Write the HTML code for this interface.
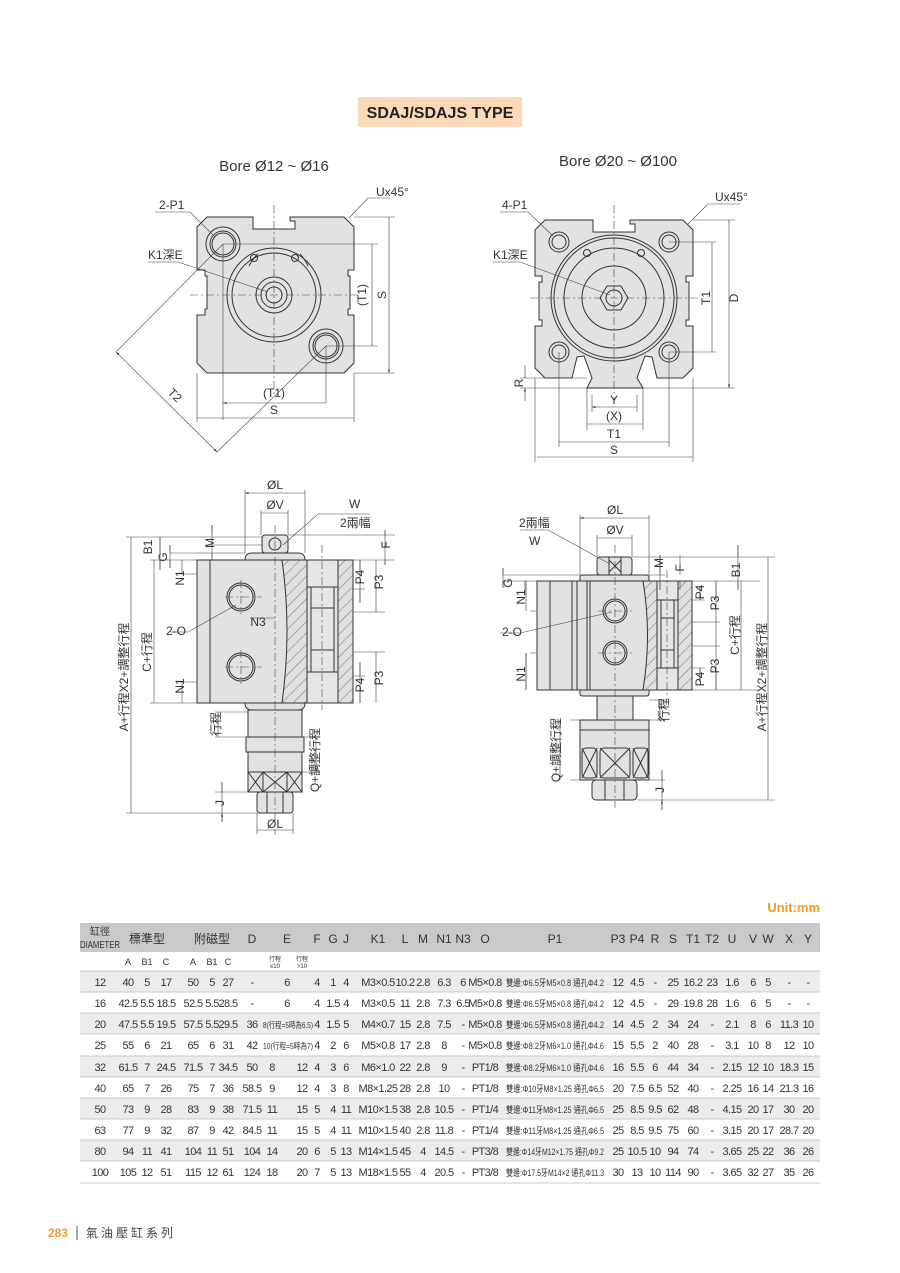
<!DOCTYPE html>
<html><head><meta charset="utf-8"><style>
html,body{margin:0;padding:0;background:#fff;}
svg{display:block;font-family:"Liberation Sans","Noto Sans CJK TC",sans-serif;}
</style></head><body>
<svg width="900" height="1273" viewBox="0 0 900 1273" xmlns="http://www.w3.org/2000/svg">
<defs>
<pattern id="h" width="8" height="8" patternUnits="userSpaceOnUse" patternTransform="rotate(45)">
<rect width="8" height="8" fill="#e0e0e0"/><line x1="0" y1="0" x2="0" y2="8" stroke="#555" stroke-width="0.8"/></pattern>
<marker id="a" viewBox="0 0 10 10" refX="10" refY="5" markerWidth="6" markerHeight="6" orient="auto-start-reverse"><path d="M0,2 L10,5 L0,8z" fill="#333"/></marker>
</defs>
<rect x="358" y="97" width="164" height="30" fill="#fbd9b8"/>
<text x="440" y="118" font-size="16" font-weight="bold" text-anchor="middle" fill="#222">SDAJ/SDAJS TYPE</text>

<g font-size="15" fill="#333" text-anchor="middle">
<text x="274" y="171">Bore Ø12 ~ Ø16</text>
<text x="618" y="166">Bore Ø20 ~ Ø100</text>
</g>

<!-- TOP LEFT -->
<g stroke="#333" stroke-width="1" fill="none">
<path d="M207,217 L253,217 L253,229 L295,229 L295,221 L290,221 L290,217 L344,217 L354,227 L354,270 L348,270 L348,276 L350,276 L350,309 L348,309 L348,315 L354,315 L354,363 L344,373 L207,373 L197,363 L197,315 L205,315 L205,309 L207,309 L207,276 L205,276 L205,270 L197,270 L197,227 Z" fill="#e2e2e2"/>
<circle cx="274" cy="295" r="47"/><circle cx="274" cy="295" r="42"/>
<circle cx="274" cy="295" r="18"/><circle cx="274" cy="295" r="13"/><circle cx="274" cy="295" r="8"/>
<circle cx="223" cy="244" r="17"/><circle cx="223" cy="244" r="13"/><circle cx="223" cy="244" r="11"/>
<circle cx="326" cy="346" r="17"/><circle cx="326" cy="346" r="13"/><circle cx="326" cy="346" r="11"/>
<circle cx="254" cy="258" r="3.5"/><circle cx="295" cy="258" r="3.5"/>
<path d="M249,266 A40,40 0 0 1 258,254 M300,254 A40,40 0 0 1 308,266"/>
</g>
<g stroke="#444" stroke-width="0.6" fill="none">
<path d="M274,205 V395 M190,295 H358" stroke-dasharray="8,3,2,3"/>
<path d="M223,244 V420 M326,346 V403 M197,373 V422 M354,373 V422 M354,217 H395 M354,373 H395 M223,244 H378 M326,346 H378"/>
<path d="M223,403 H326 M197,418 H354 M372,244 V346 M389,217 V373" marker-start="url(#a)" marker-end="url(#a)"/>
<path d="M116,352 L217,452" marker-start="url(#a)" marker-end="url(#a)"/>
<path d="M116,352 L223,244 M217,452 L326,346"/>
<path d="M155,212 H190 L215,237 M148,262 H178 L268,292 M349,218 L368,198 H390"/>
</g>
<g font-size="12" fill="#333">
<text x="159" y="209">2-P1</text><text x="148" y="259">K1深E</text><text x="376" y="196">Ux45°</text>
<text x="274" y="397" text-anchor="middle">(T1)</text><text x="274" y="414" text-anchor="middle">S</text>
<text transform="translate(366,295) rotate(-90)" text-anchor="middle">(T1)</text>
<text transform="translate(386,295) rotate(-90)" text-anchor="middle">S</text>
<text transform="translate(172,398) rotate(45)" text-anchor="middle">T2</text>
</g>

<!-- TOP RIGHT -->
<g stroke="#333" stroke-width="1" fill="none">
<path d="M545,220 L593,220 L593,232 L635,232 L635,224 L630,224 L630,220 L683,220 L693,230 L693,276 L686,276 L686,282 L689,282 L689,320 L686,320 L686,326 L693,326 L693,368 L683,378 L657,378 L652,357 L645,356 L637,378 L643,388 L587,388 L592,378 L584,356 L577,357 L572,378 L545,378 L535,368 L535,326 L542,326 L542,320 L539,320 L539,282 L542,282 L542,276 L535,276 L535,230 Z" fill="#e2e2e2"/>
<circle cx="614" cy="298" r="63"/><circle cx="614" cy="298" r="60"/><circle cx="614" cy="298" r="50"/>
<circle cx="614" cy="298" r="32"/>
<polygon points="600,298 607,286 621,286 628,298 621,310 607,310"/><circle cx="614" cy="298" r="8"/>
<circle cx="559" cy="242" r="10"/><circle cx="559" cy="242" r="7"/>
<circle cx="669" cy="242" r="10"/><circle cx="669" cy="242" r="7"/>
<circle cx="559" cy="352" r="10"/><circle cx="559" cy="352" r="7"/>
<circle cx="669" cy="352" r="10"/><circle cx="669" cy="352" r="7"/>
<circle cx="587" cy="253" r="3.5"/><circle cx="641" cy="253" r="3.5"/>
</g>
<g stroke="#444" stroke-width="0.6" fill="none">
<path d="M614,205 V400 M530,298 H700" stroke-dasharray="8,3,2,3"/>
<path d="M559,352 V447 M669,352 V447 M535,378 V462 M693,378 V462 M587,388 V430 M643,388 V430 M592,395 V412 M637,395 V412 M693,220 H735 M643,388 H735 M669,242 H716 M669,352 H716 M520,378 H587 M520,388 H587"/>
<path d="M592,407 H637 M587,424 H643 M559,442 H669 M537,457 H693 M712,242 V352 M729,220 V388" marker-start="url(#a)" marker-end="url(#a)"/>
<path d="M525,365 V378 M525,401 V388" marker-end="url(#a)"/>
<path d="M500,212 H528 L553,236 M493,262 H520 L610,295 M688,224 L708,204 H740"/>
</g>
<g font-size="12" fill="#333">
<text x="502" y="209">4-P1</text><text x="493" y="259">K1深E</text><text x="715" y="201">Ux45°</text>
<text x="614" y="404" text-anchor="middle">Y</text><text x="614" y="420" text-anchor="middle">(X)</text>
<text x="614" y="438" text-anchor="middle">T1</text><text x="614" y="454" text-anchor="middle">S</text>
<text transform="translate(710,298) rotate(-90)" text-anchor="middle">T1</text>
<text transform="translate(738,298) rotate(-90)" text-anchor="middle">D</text>
<text transform="translate(523,383) rotate(-90)" text-anchor="middle">R</text>
</g>

<!-- BOTTOM LEFT -->
<g stroke="#333" stroke-width="1">
<rect x="197" y="560" width="156" height="143" fill="#e2e2e2"/>
<path d="M282,560 Q292,630 282,703 L307,703 L307,560 Z M338,560 H353 V703 H338 Z" fill="url(#h)"/>
<path d="M307,560 H338 V587 H334 V608 H334 V650 V672 H338 V703 H307 V672 H311 V650 V608 H311 V587 H307 Z" fill="#e6e6e6"/>
<path d="M311,587 H334 M311,608 H334 M311,650 H334 M311,672 H334" fill="none"/>
<line x1="210" y1="560" x2="210" y2="703"/>
<path d="M245,560 Q245,553 252,553 H298 Q305,553 305,560 Z" fill="#e2e2e2"/>
<path d="M245,703 Q245,710 252,710 H298 Q305,710 305,703 Z" fill="#e2e2e2"/>
<rect x="262" y="535" width="26" height="18" rx="3" fill="#e2e2e2"/>
<circle cx="275" cy="544" r="6" fill="none"/>
<rect x="248" y="710" width="54" height="27" fill="#e2e2e2"/>
<rect x="246" y="737" width="58" height="15" fill="#e2e2e2"/>
<rect x="248" y="752" width="54" height="20" fill="#e2e2e2"/>
<rect x="248" y="772" width="15" height="20" fill="#e2e2e2"/><rect x="263" y="772" width="24" height="20" fill="#e2e2e2"/><rect x="287" y="772" width="15" height="20" fill="#e2e2e2"/>
<path d="M248,772 L263,792 M263,772 L248,792 M263,772 L287,792 M287,772 L263,792 M287,772 L302,792 M302,772 L287,792" fill="none"/>
<rect x="257" y="792" width="36" height="21" rx="3" fill="#e2e2e2"/>
<path d="M267,792 V813 M283,792 V813" fill="none"/>
<circle cx="241" cy="597" r="14" fill="#e2e2e2"/><circle cx="241" cy="597" r="12" fill="none"/>
<circle cx="241" cy="667" r="14" fill="#e2e2e2"/><circle cx="241" cy="667" r="12" fill="none"/>
</g>
<g stroke="#444" stroke-width="0.6" fill="none">
<path d="M275,525 V835 M225,597 H262 M225,667 H262 M241,580 V614 M241,650 V684 M322,545 V710" stroke-dasharray="8,3,2,3"/>
<path d="M245,490 V553 M305,490 V553 M261,510 V535 M288,510 V535 M257,813 V834 M293,813 V834 M126,537 H262 M126,813 H257 M150,560 H197 M150,703 H197 M170,553 H245 M175,560 H197 M178,574 H197 M178,682 H197 M288,535 H395 M353,560 H395 M205,545 H262 M353,589 H365 M353,612 H385 M353,652 H385 M353,676 H365 M215,712 H248 M215,737 H246 M300,737 H320 M300,772 H320 M215,792 H257"/>
<path d="M245,493 H305 M261,513 H288 M257,830 H293 M131,537 V813 M154,560 V703 M250,618 H275 M376,560 V612 M376,652 V703 M218,712 V737 M316,737 V772" marker-start="url(#a)" marker-end="url(#a)"/>
<path d="M160,537 V553 M160,570 V560 M170,553 V545 M170,568 V560 M182,574 V560 M182,682 V703 M360,574 V560 M360,589 V603 M360,703 V689 M360,676 V662 M212,525 V535 M212,560 V553 M385,530 V535 M385,565 V560 M222,782 V792 M222,822 V813" marker-end="url(#a)"/>
<path d="M160,537 V570 M170,545 V568 M360,560 V603 M360,662 V703 M212,525 V560 M385,530 V565 M222,782 V822"/>
<path d="M170,632 H188 L236,605 M283,545 L318,514 H370"/>
</g>
<g font-size="12" fill="#333">
<text x="275" y="489" text-anchor="middle">ØL</text><text x="275" y="509" text-anchor="middle">ØV</text>
<text x="275" y="828" text-anchor="middle">ØL</text>
<text x="349" y="508">W</text><text x="340" y="527">2兩幅</text>
<text x="258" y="626" text-anchor="middle">N3</text><text x="166" y="635">2-O</text>
<text transform="translate(152,547) rotate(-90)" text-anchor="middle">B1</text>
<text transform="translate(167,557) rotate(-90)" text-anchor="middle">G</text>
<text transform="translate(184,578) rotate(-90)" text-anchor="middle">N1</text>
<text transform="translate(184,686) rotate(-90)" text-anchor="middle">N1</text>
<text transform="translate(151,652) rotate(-90)" text-anchor="middle">C+行程</text>
<text transform="translate(128,677) rotate(-90)" text-anchor="middle">A+行程X2+調整行程</text>
<text transform="translate(214,543) rotate(-90)" text-anchor="middle">M</text>
<text transform="translate(390,545) rotate(-90)" text-anchor="middle">F</text>
<text transform="translate(364,577) rotate(-90)" text-anchor="middle">P4</text>
<text transform="translate(383,582) rotate(-90)" text-anchor="middle">P3</text>
<text transform="translate(364,685) rotate(-90)" text-anchor="middle">P4</text>
<text transform="translate(383,678) rotate(-90)" text-anchor="middle">P3</text>
<text transform="translate(220,724) rotate(-90)" text-anchor="middle">行程</text>
<text transform="translate(319,760) rotate(-90)" text-anchor="middle">Q+調整行程</text>
<text transform="translate(224,803) rotate(-90)" text-anchor="middle">J</text>
</g>

<!-- BOTTOM RIGHT -->
<g stroke="#333" stroke-width="1">
<rect x="537" y="581" width="155" height="109" fill="#e2e2e2"/>
<path d="M643,581 Q652,635 643,690 L657,690 L657,581 Z M678,581 H692 V690 H678 Z" fill="url(#h)"/>
<path d="M657,581 H678 V600 H674 V618 V650 V668 H678 V690 H657 V668 H661 V650 V618 V600 H657 Z" fill="#e6e6e6"/>
<path d="M661,600 H674 M661,618 H674 M661,650 H674 M661,668 H674" fill="none"/>
<path d="M550,581 V690 M572,581 V690 M577,581 V690 M587,581 V690 M590,581 V690" fill="none"/>
<path d="M580,581 V577 Q580,575 583,575 H646 Q649,575 649,577 V581 Z" fill="#e2e2e2"/>
<path d="M580,690 V694 Q580,696 583,696 H646 Q649,696 649,694 V690 Z" fill="#e2e2e2"/>
<rect x="597" y="557" width="35" height="18" rx="3" fill="#e2e2e2"/>
<path d="M609,557 V575 M621,557 V575 M609,560 L621,572 M621,560 L609,572" fill="none"/>
<rect x="597" y="696" width="36" height="24" fill="#e2e2e2"/>
<rect x="580" y="720" width="69" height="60" fill="#e2e2e2"/>
<path d="M580,730 H649" fill="none"/>
<rect x="582" y="748" width="15" height="30" rx="4" fill="none"/><rect x="600" y="748" width="30" height="30" rx="4" fill="none"/><rect x="633" y="748" width="15" height="30" rx="4" fill="none"/>
<path d="M582,748 L597,778 M597,748 L582,778 M600,748 L630,778 M630,748 L600,778 M633,748 L648,778 M648,748 L633,778" fill="none"/>
<rect x="592" y="780" width="45" height="20" rx="4" fill="#e2e2e2"/>
<path d="M605,780 V800 M624,780 V800" fill="none"/>
<circle cx="615" cy="611" r="12" fill="#e2e2e2"/><circle cx="615" cy="611" r="10" fill="none"/>
<circle cx="615" cy="653" r="12" fill="#e2e2e2"/><circle cx="615" cy="653" r="10" fill="none"/>
</g>
<g stroke="#444" stroke-width="0.6" fill="none">
<path d="M615,545 V808 M598,611 H632 M598,653 H632 M667,570 V700" stroke-dasharray="8,3,2,3"/>
<path d="M580,515 V575 M649,515 V575 M597,535 V557 M632,535 V557 M632,557 H775 M649,575 H665 M692,581 H760 M692,690 H760 M692,600 H705 M692,622 H720 M692,646 H720 M692,668 H705 M637,800 H775 M503,575 H580 M503,581 H537 M530,611 H537 M530,653 H537 M649,700 H665 M649,720 H665 M570,720 H580 M570,780 H580 M637,780 H665"/>
<path d="M580,518 H649 M597,538 H632 M768,557 V800 M741,581 V690 M716,622 V646 M560,720 V780 M660,700 V720" marker-start="url(#a)" marker-end="url(#a)"/>
<path d="M660,555 V575 M660,590 V581 M680,555 V575 M680,590 V581 M503,568 V575 M503,588 V581 M525,595 V581 M700,586 V600 M700,682 V668 M716,581 V600 M716,690 V668 M738,545 V557 M738,590 V581 M526,690 V653 M662,770 V780 M662,810 V800" marker-end="url(#a)"/>
<path d="M660,555 V590 M503,568 V588 M700,586 V600 M716,581 V622 M716,646 V690 M738,545 V590 M662,770 V810 M526,581 V611 M526,653 V690 M700,668 V682"/>
<path d="M520,530 H548 L610,564 M500,633 H520 L612,612"/>
</g>
<g font-size="12" fill="#333">
<text x="615" y="514" text-anchor="middle">ØL</text><text x="615" y="534" text-anchor="middle">ØV</text>
<text x="519" y="527">2兩幅</text><text x="529" y="545">W</text><text x="502" y="636">2-O</text>
<text transform="translate(512,583) rotate(-90)" text-anchor="middle">G</text>
<text transform="translate(525,597) rotate(-90)" text-anchor="middle">N1</text>
<text transform="translate(525,674) rotate(-90)" text-anchor="middle">N1</text>
<text transform="translate(663,563) rotate(-90)" text-anchor="middle">M</text>
<text transform="translate(684,568) rotate(-90)" text-anchor="middle">F</text>
<text transform="translate(740,570) rotate(-90)" text-anchor="middle">B1</text>
<text transform="translate(704,592) rotate(-90)" text-anchor="middle">P4</text>
<text transform="translate(719,603) rotate(-90)" text-anchor="middle">P3</text>
<text transform="translate(704,679) rotate(-90)" text-anchor="middle">P4</text>
<text transform="translate(719,666) rotate(-90)" text-anchor="middle">P3</text>
<text transform="translate(739,635) rotate(-90)" text-anchor="middle">C+行程</text>
<text transform="translate(766,677) rotate(-90)" text-anchor="middle">A+行程X2+調整行程</text>
<text transform="translate(668,710) rotate(-90)" text-anchor="middle">行程</text>
<text transform="translate(560,750) rotate(-90)" text-anchor="middle">Q+調整行程</text>
<text transform="translate(664,790) rotate(-90)" text-anchor="middle">J</text>
</g>

<!-- TABLE -->
<text x="820" y="912" font-size="13" font-weight="bold" fill="#f39a2b" text-anchor="end">Unit:mm</text>
<rect x="80" y="923" width="740" height="29" fill="#c9c9c9"/>
<g fill="#ececec">
<rect x="80" y="971" width="740" height="21"/><rect x="80" y="1013" width="740" height="21"/>
<rect x="80" y="1056" width="740" height="21"/><rect x="80" y="1098" width="740" height="21"/>
<rect x="80" y="1140" width="740" height="21"/>
</g>
<g stroke="#bbb" stroke-width="0.8">
<path d="M80,971 H820 M80,992 H820 M80,1013 H820 M80,1034 H820 M80,1056 H820 M80,1077 H820 M80,1098 H820 M80,1119 H820 M80,1140 H820 M80,1161 H820 M80,1183 H820"/>
</g>
<g font-size="12" fill="#333" text-anchor="middle">
<text x="100" y="935" font-size="10">缸徑</text>
<text x="100" y="948" font-size="10" textLength="40" lengthAdjust="spacingAndGlyphs">DIAMETER</text>
<text x="147" y="943">標準型</text><text x="212" y="943">附磁型</text>
<text x="252" y="943">D</text><text x="287" y="943">E</text>
<text x="317" y="943">F</text><text x="333" y="943">G</text><text x="346" y="943">J</text>
<text x="378" y="943">K1</text><text x="405" y="943">L</text><text x="423" y="943">M</text><text x="444" y="943">N1</text><text x="463" y="943">N3</text><text x="485" y="943">O</text>
<text x="555" y="943">P1</text><text x="618" y="943">P3</text><text x="637" y="943">P4</text><text x="655" y="943">R</text><text x="673" y="943">S</text><text x="693" y="943">T1</text><text x="712" y="943">T2</text><text x="732" y="943">U</text><text x="753" y="943">V</text><text x="768" y="943">W</text><text x="789" y="943">X</text><text x="808" y="943">Y</text>
<g font-size="9"><text x="128" y="965">A</text><text x="147" y="965">B1</text><text x="166" y="965">C</text><text x="193" y="965">A</text><text x="212" y="965">B1</text><text x="228" y="965">C</text></g>
<g font-size="6"><text x="275" y="961">行程</text><text x="275" y="968">≤10</text><text x="302" y="961">行程</text><text x="302" y="968">&gt;10</text></g>
</g>
<g font-size="11" fill="#333" text-anchor="middle" letter-spacing="-0.6" style="font-family:'Liberation Sans Narrow','Liberation Sans','Noto Sans CJK TC',sans-serif">
<g transform="translate(0,986)"><text x="100">12</text><text x="128">40</text><text x="147">5</text><text x="166">17</text><text x="193">50</text><text x="212">5</text><text x="228">27</text><text x="252">-</text><text x="287">6</text><text x="317">4</text><text x="333">1</text><text x="346">4</text><text x="378">M3×0.5</text><text x="405">10.2</text><text x="423">2.8</text><text x="444">6.3</text><text x="463">6</text><text x="485">M5×0.8</text><text x="555" font-size="9" letter-spacing="0" textLength="98" lengthAdjust="spacingAndGlyphs">雙邊:Φ6.5牙M5×0.8 通孔Φ4.2</text><text x="618">12</text><text x="637">4.5</text><text x="655">-</text><text x="673">25</text><text x="693">16.2</text><text x="712">23</text><text x="732">1.6</text><text x="753">6</text><text x="768">5</text><text x="789">-</text><text x="808">-</text></g>
<g transform="translate(0,1007)"><text x="100">16</text><text x="128">42.5</text><text x="147">5.5</text><text x="166">18.5</text><text x="193">52.5</text><text x="212">5.5</text><text x="228">28.5</text><text x="252">-</text><text x="287">6</text><text x="317">4</text><text x="333">1.5</text><text x="346">4</text><text x="378">M3×0.5</text><text x="405">11</text><text x="423">2.8</text><text x="444">7.3</text><text x="463">6.5</text><text x="485">M5×0.8</text><text x="555" font-size="9" letter-spacing="0" textLength="98" lengthAdjust="spacingAndGlyphs">雙邊:Φ6.5牙M5×0.8 通孔Φ4.2</text><text x="618">12</text><text x="637">4.5</text><text x="655">-</text><text x="673">29</text><text x="693">19.8</text><text x="712">28</text><text x="732">1.6</text><text x="753">6</text><text x="768">5</text><text x="789">-</text><text x="808">-</text></g>
<g transform="translate(0,1028)"><text x="100">20</text><text x="128">47.5</text><text x="147">5.5</text><text x="166">19.5</text><text x="193">57.5</text><text x="212">5.5</text><text x="228">29.5</text><text x="252">36</text><text x="288" font-size="8.5" letter-spacing="0" textLength="50" lengthAdjust="spacingAndGlyphs">8(行程=5時為6.5)</text><text x="317">4</text><text x="333">1.5</text><text x="346">5</text><text x="378">M4×0.7</text><text x="405">15</text><text x="423">2.8</text><text x="444">7.5</text><text x="463">-</text><text x="485">M5×0.8</text><text x="555" font-size="9" letter-spacing="0" textLength="98" lengthAdjust="spacingAndGlyphs">雙邊:Φ6.5牙M5×0.8 通孔Φ4.2</text><text x="618">14</text><text x="637">4.5</text><text x="655">2</text><text x="673">34</text><text x="693">24</text><text x="712">-</text><text x="732">2.1</text><text x="753">8</text><text x="768">6</text><text x="789">11.3</text><text x="808">10</text></g>
<g transform="translate(0,1049)"><text x="100">25</text><text x="128">55</text><text x="147">6</text><text x="166">21</text><text x="193">65</text><text x="212">6</text><text x="228">31</text><text x="252">42</text><text x="288" font-size="8.5" letter-spacing="0" textLength="50" lengthAdjust="spacingAndGlyphs">10(行程=5時為7)</text><text x="317">4</text><text x="333">2</text><text x="346">6</text><text x="378">M5×0.8</text><text x="405">17</text><text x="423">2.8</text><text x="444">8</text><text x="463">-</text><text x="485">M5×0.8</text><text x="555" font-size="9" letter-spacing="0" textLength="98" lengthAdjust="spacingAndGlyphs">雙邊:Φ8.2牙M6×1.0 通孔Φ4.6</text><text x="618">15</text><text x="637">5.5</text><text x="655">2</text><text x="673">40</text><text x="693">28</text><text x="712">-</text><text x="732">3.1</text><text x="753">10</text><text x="768">8</text><text x="789">12</text><text x="808">10</text></g>
<g transform="translate(0,1071)"><text x="100">32</text><text x="128">61.5</text><text x="147">7</text><text x="166">24.5</text><text x="193">71.5</text><text x="212">7</text><text x="228">34.5</text><text x="252">50</text><text x="272">8</text><text x="302">12</text><text x="317">4</text><text x="333">3</text><text x="346">6</text><text x="378">M6×1.0</text><text x="405">22</text><text x="423">2.8</text><text x="444">9</text><text x="463">-</text><text x="485">PT1/8</text><text x="555" font-size="9" letter-spacing="0" textLength="98" lengthAdjust="spacingAndGlyphs">雙邊:Φ8.2牙M6×1.0 通孔Φ4.6</text><text x="618">16</text><text x="637">5.5</text><text x="655">6</text><text x="673">44</text><text x="693">34</text><text x="712">-</text><text x="732">2.15</text><text x="753">12</text><text x="768">10</text><text x="789">18.3</text><text x="808">15</text></g>
<g transform="translate(0,1092)"><text x="100">40</text><text x="128">65</text><text x="147">7</text><text x="166">26</text><text x="193">75</text><text x="212">7</text><text x="228">36</text><text x="252">58.5</text><text x="272">9</text><text x="302">12</text><text x="317">4</text><text x="333">3</text><text x="346">8</text><text x="378">M8×1.25</text><text x="405">28</text><text x="423">2.8</text><text x="444">10</text><text x="463">-</text><text x="485">PT1/8</text><text x="555" font-size="9" letter-spacing="0" textLength="98" lengthAdjust="spacingAndGlyphs">雙邊:Φ10牙M8×1.25 通孔Φ6.5</text><text x="618">20</text><text x="637">7.5</text><text x="655">6.5</text><text x="673">52</text><text x="693">40</text><text x="712">-</text><text x="732">2.25</text><text x="753">16</text><text x="768">14</text><text x="789">21.3</text><text x="808">16</text></g>
<g transform="translate(0,1113)"><text x="100">50</text><text x="128">73</text><text x="147">9</text><text x="166">28</text><text x="193">83</text><text x="212">9</text><text x="228">38</text><text x="252">71.5</text><text x="272">11</text><text x="302">15</text><text x="317">5</text><text x="333">4</text><text x="346">11</text><text x="378">M10×1.5</text><text x="405">38</text><text x="423">2.8</text><text x="444">10.5</text><text x="463">-</text><text x="485">PT1/4</text><text x="555" font-size="9" letter-spacing="0" textLength="98" lengthAdjust="spacingAndGlyphs">雙邊:Φ11牙M8×1.25 通孔Φ6.5</text><text x="618">25</text><text x="637">8.5</text><text x="655">9.5</text><text x="673">62</text><text x="693">48</text><text x="712">-</text><text x="732">4.15</text><text x="753">20</text><text x="768">17</text><text x="789">30</text><text x="808">20</text></g>
<g transform="translate(0,1134)"><text x="100">63</text><text x="128">77</text><text x="147">9</text><text x="166">32</text><text x="193">87</text><text x="212">9</text><text x="228">42</text><text x="252">84.5</text><text x="272">11</text><text x="302">15</text><text x="317">5</text><text x="333">4</text><text x="346">11</text><text x="378">M10×1.5</text><text x="405">40</text><text x="423">2.8</text><text x="444">11.8</text><text x="463">-</text><text x="485">PT1/4</text><text x="555" font-size="9" letter-spacing="0" textLength="98" lengthAdjust="spacingAndGlyphs">雙邊:Φ11牙M8×1.25 通孔Φ6.5</text><text x="618">25</text><text x="637">8.5</text><text x="655">9.5</text><text x="673">75</text><text x="693">60</text><text x="712">-</text><text x="732">3.15</text><text x="753">20</text><text x="768">17</text><text x="789">28.7</text><text x="808">20</text></g>
<g transform="translate(0,1155)"><text x="100">80</text><text x="128">94</text><text x="147">11</text><text x="166">41</text><text x="193">104</text><text x="212">11</text><text x="228">51</text><text x="252">104</text><text x="272">14</text><text x="302">20</text><text x="317">6</text><text x="333">5</text><text x="346">13</text><text x="378">M14×1.5</text><text x="405">45</text><text x="423">4</text><text x="444">14.5</text><text x="463">-</text><text x="485">PT3/8</text><text x="555" font-size="9" letter-spacing="0" textLength="98" lengthAdjust="spacingAndGlyphs">雙邊:Φ14牙M12×1.75 通孔Φ9.2</text><text x="618">25</text><text x="637">10.5</text><text x="655">10</text><text x="673">94</text><text x="693">74</text><text x="712">-</text><text x="732">3.65</text><text x="753">25</text><text x="768">22</text><text x="789">36</text><text x="808">26</text></g>
<g transform="translate(0,1176)"><text x="100">100</text><text x="128">105</text><text x="147">12</text><text x="166">51</text><text x="193">115</text><text x="212">12</text><text x="228">61</text><text x="252">124</text><text x="272">18</text><text x="302">20</text><text x="317">7</text><text x="333">5</text><text x="346">13</text><text x="378">M18×1.5</text><text x="405">55</text><text x="423">4</text><text x="444">20.5</text><text x="463">-</text><text x="485">PT3/8</text><text x="555" font-size="9" letter-spacing="0" textLength="98" lengthAdjust="spacingAndGlyphs">雙邊:Φ17.5牙M14×2 通孔Φ11.3</text><text x="618">30</text><text x="637">13</text><text x="655">10</text><text x="673">114</text><text x="693">90</text><text x="712">-</text><text x="732">3.65</text><text x="753">32</text><text x="768">27</text><text x="789">35</text><text x="808">26</text></g>
</g>

<!-- FOOTER -->
<text x="48" y="1237" font-size="12" font-weight="bold" fill="#f39a2b">283</text>
<line x1="77" y1="1226" x2="77" y2="1240" stroke="#555" stroke-width="1"/>
<text x="86" y="1237" font-size="12" fill="#444" letter-spacing="3">氣油壓缸系列</text>
</svg>
</body></html>
